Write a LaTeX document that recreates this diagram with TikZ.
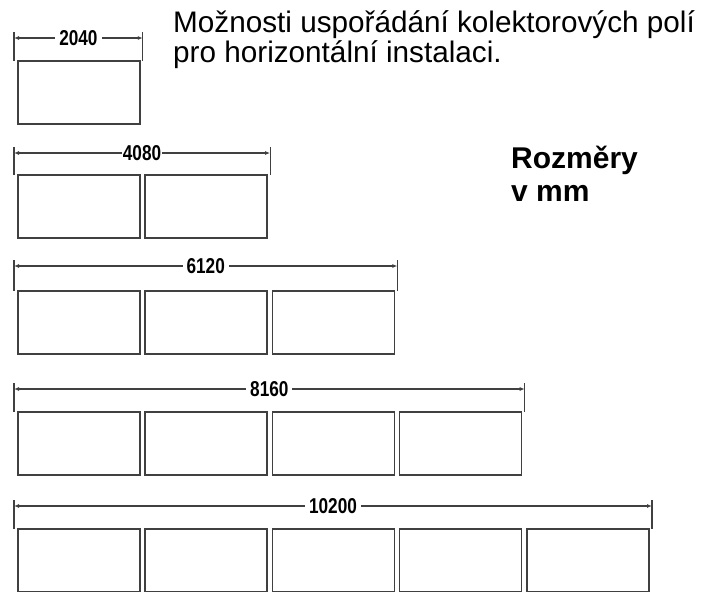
\documentclass[tikz,border=0pt]{standalone}
\usepackage{fontspec}
\setmainfont{Liberation Sans}
\usetikzlibrary{arrows.meta}

\begin{document}
\begin{tikzpicture}[x=1pt, y=-1pt,
    panel/.style={draw=black!75, line width=1.5pt, fill=white, inner sep=0pt,
      minimum width=122pt, minimum height=63pt, anchor=north west},
    dimline/.style={draw=black!75, line width=1.1pt,
      {Latex[length=5pt,width=4pt]}-{Latex[length=5pt,width=4pt]}},
    tick/.style={draw=black!75, line width=1.1pt},
    dimlabel/.style={fill=white, inner sep=4pt,
      font=\bfseries\fontsize{21.5}{21.5}\selectfont},
    title/.style={anchor=base west, inner sep=0pt, align=left,
      font=\fontsize{29.7}{30}\selectfont}]
    \useasboundingbox (0,0) rectangle (718,592);

    % texts
    \node[title] (head1) at (173,32) {Možnosti uspořádání kolektorových polí};
    \node[title] (head2) at (173,62) {pro horizontální instalaci.};
    \node[title, font=\bfseries\fontsize{30}{30}\selectfont] (unit1) at (511,168) {Rozměry};
    \node[title, font=\bfseries\fontsize{30}{30}\selectfont] (unit2) at (511,201) {v mm};

    % 2040
    \node[panel] (p11) at ( 17.0, 60) {};
    \draw[tick] (14,32) -- (14,61);
    \draw[tick] (142.8,32) -- (142.8,61);
    \coordinate (d1a) at (14,38);
    \coordinate (d1b) at (142.8,38);
    \draw[dimline] (d1a) -- node[dimlabel] (l1) {\scalebox{0.8}[1]{2040}} (d1b);

    % 4080
    \node[panel] (p21) at ( 17.0, 174) {};
    \node[panel] (p22) at (144.3, 174) {};
    \draw[tick] (14,147) -- (14,175);
    \draw[tick] (270.1,147) -- (270.1,175);
    \coordinate (d2a) at (14,153);
    \coordinate (d2b) at (270.1,153);
    \draw[dimline] (d2a) -- node[dimlabel, inner sep=1pt] (l2) {\scalebox{0.8}[1]{4080}} (d2b);

    % 6120
    \node[panel] (p31) at ( 17.0, 290) {};
    \node[panel] (p32) at (144.3, 290) {};
    \node[panel] (p33) at (271.6, 290) {};
    \draw[tick] (14,260) -- (14,291);
    \draw[tick] (397.4,260) -- (397.4,291);
    \coordinate (d3a) at (14,266);
    \coordinate (d3b) at (397.4,266);
    \draw[dimline] (d3a) -- node[dimlabel] (l3) {\scalebox{0.8}[1]{6120}} (d3b);

    % 8160
    \node[panel] (p41) at ( 17.0, 411) {};
    \node[panel] (p42) at (144.3, 411) {};
    \node[panel] (p43) at (271.6, 411) {};
    \node[panel] (p44) at (398.9, 411) {};
    \draw[tick] (14,383) -- (14,412);
    \draw[tick] (524.7,383) -- (524.7,412);
    \coordinate (d4a) at (14,389);
    \coordinate (d4b) at (524.7,389);
    \draw[dimline] (d4a) -- node[dimlabel] (l4) {\scalebox{0.8}[1]{8160}} (d4b);

    % 10200
    \node[panel] (p51) at ( 17.0, 528) {};
    \node[panel] (p52) at (144.3, 528) {};
    \node[panel] (p53) at (271.6, 528) {};
    \node[panel] (p54) at (398.9, 528) {};
    \node[panel] (p55) at (526.2, 528) {};
    \draw[tick] (14,500) -- (14,529);
    \draw[tick] (652,500) -- (652,529);
    \coordinate (d5a) at (14,506);
    \coordinate (d5b) at (652,506);
    \draw[dimline] (d5a) -- node[dimlabel] (l5) {\scalebox{0.8}[1]{10200}} (d5b);

  \end{tikzpicture}
\end{document}
